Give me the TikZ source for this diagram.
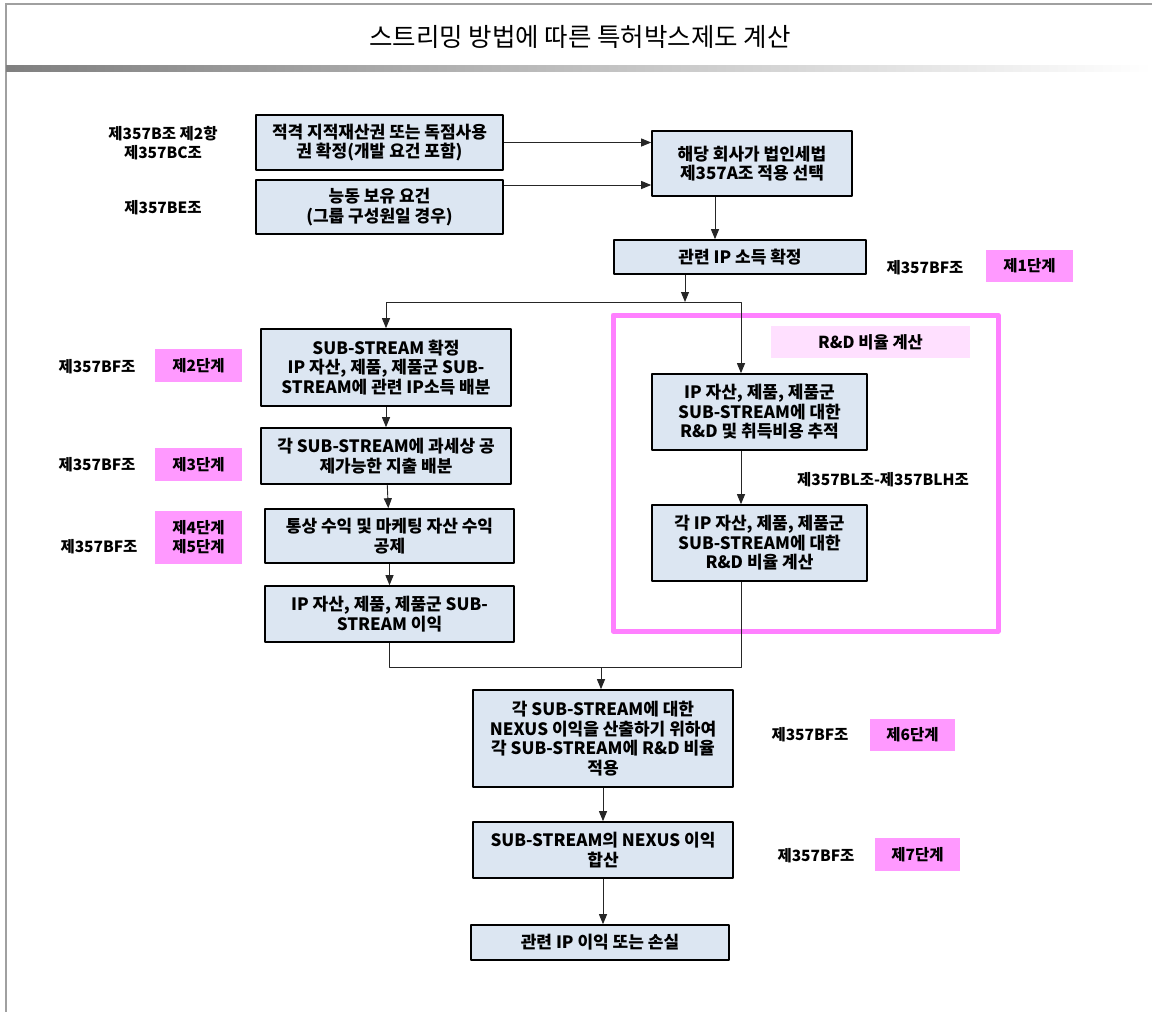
\documentclass[tikz,border=0pt]{standalone}
\usepackage{fontspec}
\setmainfont{Noto Sans CJK KR}
\usetikzlibrary{arrows.meta}
\definecolor{boxblue}{HTML}{DCE6F2}
\definecolor{tagpink}{HTML}{FF99FF}
\definecolor{framepink}{HTML}{FF80FF}
\definecolor{lightpink}{HTML}{FFE0FF}
\definecolor{rulegray}{HTML}{A0A0A0}

\begin{document}
\begin{tikzpicture}[x=1pt,y=-1pt,line join=round,
  box/.style={draw=black,line width=1.6pt,fill=boxblue,align=center,inner sep=2pt,
    font=\fontsize{17}{19.5}\selectfont\bfseries},
  tag/.style={fill=tagpink,align=center,inner sep=2pt,
    font=\fontsize{15.5}{19}\selectfont\bfseries},
  law/.style={align=center,inner sep=1pt,font=\fontsize{15.5}{19}\selectfont\bfseries},
  arr/.style={draw=black!85,line width=.9pt,-{Triangle[length=10pt,width=8pt]}},
  wire/.style={draw=black!85,line width=.9pt}]
\useasboundingbox (0,0) rectangle (1152,1012);
\draw[rulegray,line width=2pt](5,4)--(1152,4);
\draw[rulegray,line width=2pt](6,4)--(6,1012);
\shade[left color=black!50,right color=white](6,65) rectangle (1152,71);
\node[font=\fontsize{25.5}{29}\selectfont] (title) at (580,37) {스트리밍 방법에 따른 특허박스제도 계산};
\draw[framepink,line width=5pt](613,315) rectangle (998,631);
\node[box,minimum width=247pt,minimum height=55pt] (elig) at (379.5,142.5) {적격 지적재산권 또는 독점사용\\권 확정(개발 요건 포함)};
\node[box,minimum width=247pt,minimum height=54pt] (active) at (379.5,207) {능동 보유 요건\\(그룹 구성원일 경우)};
\node[box,minimum width=200pt,minimum height=65pt] (elect) at (752,163.5) {해당 회사가 법인세법\\제357A조 적용 선택};
\node[box,minimum width=252pt,minimum height=34pt] (income) at (740,257) {관련 IP 소득 확정};
\node[box,minimum width=250pt,minimum height=77pt] (sub) at (386,367.5) {SUB-STREAM 확정\\IP 자산, 제품, 제품군 SUB-\\STREAM에 관련 IP소득 배분};
\node[box,minimum width=250pt,minimum height=56pt] (deduct) at (386,456) {각 SUB-STREAM에 과세상 공\\제가능한 지출 배분};
\node[box,minimum width=249pt,minimum height=54pt] (routine) at (389.5,536) {통상 수익 및 마케팅 자산 수익\\공제};
\node[box,minimum width=249pt,minimum height=56pt] (profit) at (389.5,614) {IP 자산, 제품, 제품군 SUB-\\STREAM 이익};
\node[box,minimum width=215pt,minimum height=76pt] (track) at (759.5,412) {IP 자산, 제품, 제품군\\SUB-STREAM에 대한\\R\&D 및 취득비용 추적};
\node[box,minimum width=215pt,minimum height=76pt] (ratio) at (759.5,543) {각 IP 자산, 제품, 제품군\\SUB-STREAM에 대한\\R\&D 비율 계산};
\node[box,minimum width=260pt,minimum height=97pt] (nexus) at (603,738.5) {각 SUB-STREAM에 대한\\NEXUS 이익을 산출하기 위하여\\각 SUB-STREAM에 R\&D 비율\\적용};
\node[box,minimum width=260pt,minimum height=56pt] (total) at (603,850) {SUB-STREAM의 NEXUS 이익\\합산};
\node[box,minimum width=258pt,minimum height=35pt] (result) at (600,942.5) {관련 IP 이익 또는 손실};
\node[tag,fill=lightpink,minimum width=199pt,minimum height=32pt,font=\fontsize{16.5}{19}\selectfont\bfseries] (rdtag) at (870.5,342) {R\&D 비율 계산};
\node[tag,minimum width=87pt,minimum height=32pt] (step1) at (1029.5,266) {제1단계};
\node[tag,minimum width=87pt,minimum height=33pt] (step2) at (198.5,365.5) {제2단계};
\node[tag,minimum width=87pt,minimum height=33pt] (step3) at (198.5,464.5) {제3단계};
\node[tag,minimum width=87pt,minimum height=53pt] (step45) at (198.5,537.5) {제4단계\\제5단계};
\node[tag,minimum width=85pt,minimum height=32pt] (step6) at (912.5,735) {제6단계};
\node[tag,minimum width=85pt,minimum height=33pt] (step7) at (917.5,854.5) {제7단계};
\node[law] (law0) at (163,143) {제357B조 제2항\\제357BC조};
\node[law] (lawBE) at (163,208) {제357BE조};
\node[law] (law1) at (925,268) {제357BF조};
\node[law] (law2) at (97,367) {제357BF조};
\node[law] (law3) at (97,465) {제357BF조};
\node[law] (law45) at (99,547) {제357BF조};
\node[law] (lawBL) at (883,480) {제357BL조-제357BLH조};
\node[law] (law6) at (810,735) {제357BF조};
\node[law] (law7) at (816,856) {제357BF조};
\coordinate (split) at (685,302);
\coordinate (merge) at (601,667);
\draw[arr](elig.east)--(elig.east -| elect.west);
\draw[arr]([yshift=22pt]active.east)--([yshift=22pt]active.east -| elect.west);
\draw[arr]([xshift=-37pt]elect.south)--([xshift=-37pt]elect.south |- income.north);
\draw[arr](income.south -| split)--(split);
\draw[arr](split)-|(sub.north);
\draw[arr](split)-|([xshift=-18.5pt]track.north);
\draw[arr](sub)--(deduct);
\draw[arr](deduct)--(routine);
\draw[arr](routine)--(profit);
\draw[arr]([xshift=-18.5pt]track.south)--([xshift=-18.5pt]ratio.north);
\draw[wire](profit.south)|-(merge);
\draw[wire]([xshift=-18.5pt]ratio.south)|-(merge);
\draw[arr](merge)--(merge |- nexus.north);
\draw[arr](nexus)--(total);
\draw[arr](total.south)--(total.south |- result.north);
\end{tikzpicture}
\end{document}
